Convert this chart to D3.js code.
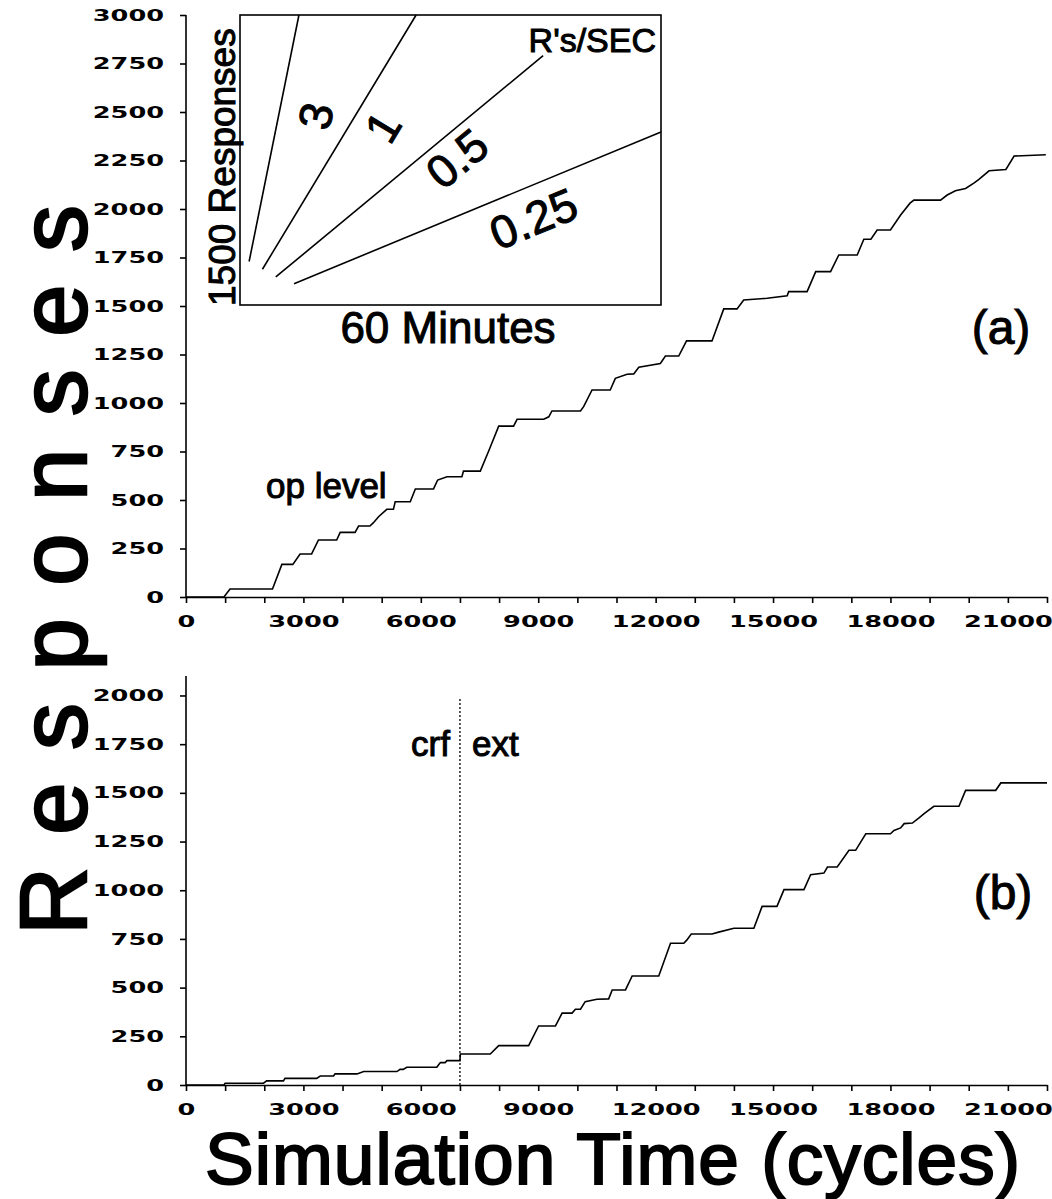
<!DOCTYPE html>
<html>
<head>
<meta charset="utf-8">
<script src="https://cdn.jsdelivr.net/npm/d3@7"></script>
<style>
  body { margin: 0; background: #fff; }
  text { font-family: "Liberation Sans", Arial, sans-serif; fill: #000; }
  .tick text { font-family: "DejaVu Sans", sans-serif; font-weight: bold; font-size: 16px; }
  .heavy { stroke: #000; stroke-width: 1; }
</style>
</head>
<body>
<script>
// panel (a): cumulative responses at the operant level
var opCycles    = [0, 970, 1125, 2210, 2450, 2730, 2915, 3210, 3385, 3850, 3940, 4320, 4410, 4700, 4790, 4920, 5130, 5300, 5345, 5730,
                   5860, 6325, 6430, 6670, 7050, 7090, 7520, 7750, 7990, 8370, 8460, 9140, 9270, 9350, 10080, 10160, 10375, 10840,
                   10970, 11270, 11440, 11570, 12120, 12250, 12590, 12790, 13440, 13740, 14080, 14250, 14850, 15360, 15400, 15870,
                   16090, 16470, 16680, 17150, 17320, 17500, 17660, 18000, 18260, 18500, 18600, 19280, 19450, 19660, 19920, 20140,
                   20260, 20520, 20950, 21160, 21970];
var opResponses = [0, 0, 41, 41, 168, 168, 222, 222, 294, 294, 333, 333, 366, 366, 383, 414, 452, 452, 491, 491,
                   557, 557, 603, 620, 620, 649, 649, 760, 881, 881, 916, 916, 929, 959, 959, 981, 1067, 1067,
                   1127, 1148, 1150, 1184, 1204, 1242, 1242, 1320, 1320, 1485, 1485, 1531, 1540, 1553, 1574, 1574,
                   1677, 1677, 1763, 1763, 1844, 1844, 1892, 1892, 1969, 2030, 2046, 2046, 2072, 2094, 2106, 2135,
                   2153, 2197, 2204, 2273, 2280];

// panel (b): crf then extinction
var extCycles    = [0, 970, 1000, 1980, 2060, 2490, 2530, 3340, 3430, 3770, 3810, 4370, 4540, 5390, 5470, 5550, 5640, 6410,
                    6450, 6500, 6620, 6670, 7000, 7010, 7775, 7990, 8755, 9010, 9440, 9610, 9865, 9950, 10080, 10200, 10500,
                    10800, 10890, 11230, 11400, 12080, 12380, 12720, 12800, 12910, 13440, 13610, 14000, 14510, 14720, 15100,
                    15280, 15790, 15960, 16300, 16390, 16640, 16940, 17110, 17370, 18000, 18090, 18260, 18350, 18560, 18730,
                    18860, 19110, 19750, 19920, 20690, 20820, 22000];
var extResponses = [0, 0, 9, 9, 21, 21, 34, 34, 46, 46, 57, 57, 69, 69, 80, 80, 91, 91,
                    103, 115, 115, 125, 125, 159, 159, 202, 202, 303, 303, 369, 369, 389, 389, 428, 440,
                    442, 488, 488, 560, 560, 728, 728, 745, 775, 775, 785, 805, 805, 917, 917,
                    1003, 1003, 1080, 1088, 1119, 1119, 1205, 1205, 1290, 1290, 1307, 1320, 1342, 1345, 1371,
                    1393, 1431, 1431, 1513, 1513, 1551, 1551];
var crfEndCycle = 7000;
var crfLineTop = 1990;

// inset: reference slopes, responses per second
var rateLabels     = ["3", "1", "0.5", "0.25"];
var rateStartMin   = [1.3, 3.2, 5.1, 7.7];
var rateStartResp  = [225, 185, 145, 110];
var rateEndMin     = [8.4, 25.1, 43.2, 60];
var rateEndResp    = [1500, 1500, 1290, 895];

var xTicks  = d3.range(0, 22001, 1000);
var yTicksA = d3.range(0, 3001, 250);
var yTicksB = d3.range(0, 2001, 250);

var W = 1052, H = 1199;
var svg = d3.select("body").append("svg").attr("width", W).attr("height", H);
svg.append("rect").attr("width", W).attr("height", H).attr("fill", "#fff");

var x  = d3.scaleLinear().domain([0, 22000]).range([186, 1047]);
var yA = d3.scaleLinear().domain([0, 3000]).range([597, 15]);
var yB = d3.scaleLinear().domain([0, 2100]).range([1085, 676]);

var sx = 1.6; // tick labels are a wide face

function styleAxis(g) {
    g.selectAll("path, line").attr("stroke", "#000").attr("stroke-width", 1.6);
}

function drawPanel(y, yTicks, top) {
    var gx = svg.append("g").attr("transform", "translate(0," + y(0) + ")")
        .call(d3.axisBottom(x).tickValues(xTicks).tickSize(6).tickSizeOuter(0)
            .tickFormat(function(d){ return (d % 3000 === 0 && d <= 21000) ? d : ""; }));
    styleAxis(gx);
    gx.selectAll("text").attr("y", 30).attr("dy", 0)
        .attr("transform", "scale(" + sx + ",1)");

    var gy = svg.append("g").attr("transform", "translate(" + x(0) + ",0)")
        .call(d3.axisLeft(y).tickValues(yTicks).tickSize(6).tickSizeOuter(0).tickFormat(d3.format("d")));
    gy.select(".domain").attr("d", "M0," + y(0) + "V" + top);
    styleAxis(gy);
    gy.selectAll("text").attr("x", -22 / sx).attr("transform", "scale(" + sx + ",1)");
}

drawPanel(yA, yTicksA, yA(3000));
drawPanel(yB, yTicksB, yB(2100));

var lineA = d3.line().x(function(d){ return x(d[0]); }).y(function(d){ return yA(d[1]); });
var lineB = d3.line().x(function(d){ return x(d[0]); }).y(function(d){ return yB(d[1]); });

svg.append("path").datum(d3.zip(opCycles, opResponses))
    .attr("d", lineA).attr("fill", "none").attr("stroke", "#000").attr("stroke-width", 1.6);
svg.append("path").datum(d3.zip(extCycles, extResponses))
    .attr("d", lineB).attr("fill", "none").attr("stroke", "#000").attr("stroke-width", 1.6);

// crf | ext divider
svg.append("line")
    .attr("x1", x(crfEndCycle)).attr("x2", x(crfEndCycle))
    .attr("y1", yB(0)).attr("y2", yB(crfLineTop))
    .attr("stroke", "#000").attr("stroke-width", 1.3).attr("stroke-dasharray", "2,2");
svg.append("text").attr("class", "heavy").attr("x", x(crfEndCycle) - 10).attr("y", 756)
    .attr("text-anchor", "end").attr("font-size", 35).text("crf");
svg.append("text").attr("class", "heavy").attr("x", x(crfEndCycle) + 12).attr("y", 756)
    .attr("font-size", 35).text("ext");

svg.append("text").attr("class", "heavy").attr("x", 266).attr("y", 498)
    .attr("font-size", 35).text("op level");

svg.append("text").attr("class", "heavy").attr("x", 1001).attr("y", 344)
    .attr("text-anchor", "middle").attr("font-size", 48).text("(a)");
svg.append("text").attr("class", "heavy").attr("x", 1003).attr("y", 909)
    .attr("text-anchor", "middle").attr("font-size", 48).text("(b)");

// inset
var xi = d3.scaleLinear().domain([0, 60]).range([240, 661]);
var yi = d3.scaleLinear().domain([0, 1500]).range([305, 15]);
var inset = svg.append("g");
inset.append("rect")
    .attr("x", xi(0)).attr("y", yi(1500))
    .attr("width", xi(60) - xi(0)).attr("height", yi(0) - yi(1500))
    .attr("fill", "#fff").attr("stroke", "#000").attr("stroke-width", 1.6);

var labelT = 0.62, labelOff = [36, 29, 24, 31];
rateLabels.forEach(function(lab, i) {
    var x1 = xi(rateStartMin[i]), y1 = yi(rateStartResp[i]);
    var x2 = xi(rateEndMin[i]),   y2 = yi(rateEndResp[i]);
    inset.append("line").attr("x1", x1).attr("y1", y1).attr("x2", x2).attr("y2", y2)
        .attr("stroke", "#000").attr("stroke-width", 1.6);
    var dx = x2 - x1, dy = y2 - y1, len = Math.sqrt(dx * dx + dy * dy);
    var cx = x1 + dx * labelT + (-dy / len) * labelOff[i];
    var cy = y1 + dy * labelT + (dx / len) * labelOff[i];
    var ang = Math.atan2(dy, dx) * 180 / Math.PI;
    inset.append("text").attr("class", "heavy")
        .attr("transform", "translate(" + cx + "," + cy + ") rotate(" + ang + ")")
        .attr("text-anchor", "middle").attr("dy", "0.36em")
        .attr("font-size", 46).text(lab);
});

inset.append("text").attr("class", "heavy").attr("x", 656).attr("y", 52)
    .attr("text-anchor", "end").attr("font-size", 34).text("R's/SEC");
inset.append("text").attr("class", "heavy")
    .attr("transform", "translate(235,306) rotate(-90)")
    .attr("font-size", 37).text("1500 Responses");
inset.append("text").attr("class", "heavy").attr("x", 448).attr("y", 343)
    .attr("text-anchor", "middle").attr("font-size", 44).text("60 Minutes");

// big axis titles
svg.append("text").attr("class", "heavy")
    .attr("transform", "translate(86,935) rotate(-90)")
    .attr("font-size", 94).style("stroke-width", 2.5)
    .attr("textLength", 730).attr("lengthAdjust", "spacing")
    .text("Responses");
svg.append("text").attr("class", "heavy")
    .attr("x", 205).attr("y", 1184)
    .attr("font-size", 73).style("stroke-width", 2)
    .attr("textLength", 815).attr("lengthAdjust", "spacing")
    .text("Simulation Time  (cycles)");
</script>
</body>
</html>
